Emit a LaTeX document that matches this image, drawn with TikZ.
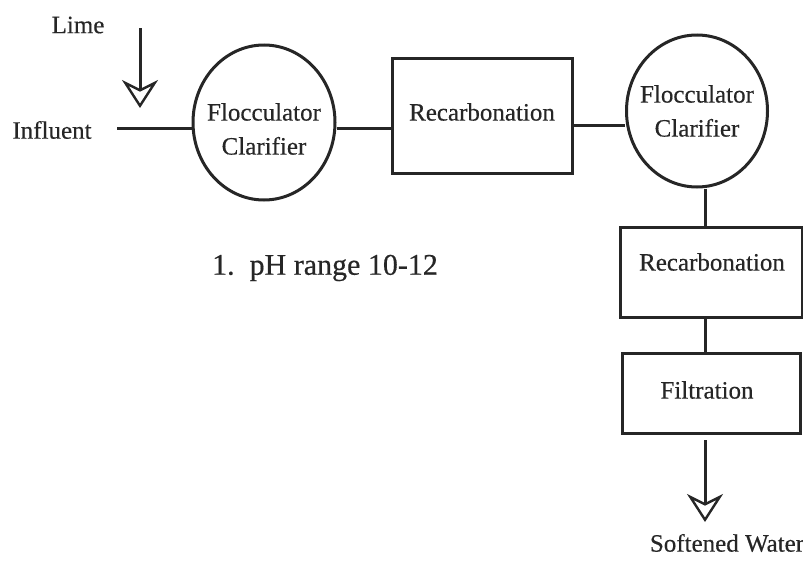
\documentclass[tikz,border=0pt]{standalone}
\usepackage{fontspec}
\setmainfont{Liberation Serif}[FakeBold=0.4]
\usetikzlibrary{shapes.geometric,arrows.meta}
\begin{document}
\begin{tikzpicture}[x=1pt,y=1pt,
  every node/.style={font=\fontsize{25}{34}\selectfont, text=black!85},
  line/.style={draw=black!85, line width=3pt},
  tank/.style={ellipse, draw=black!85, line width=3pt, inner sep=0pt},
  unitbox/.style={rectangle, draw=black!85, line width=3pt, inner sep=0pt},
  lbl/.style={inner sep=0pt, anchor=center, align=center},
  feed/.style={line, -{Stealth[open, length=28pt, width=36pt, inset=9pt, line width=2.4pt]}}
]
\useasboundingbox (0,0) rectangle (803,-562);
% units
\node[tank, minimum width=142pt, minimum height=155pt] (c1) at (264,-122.5) {};
\node[unitbox, minimum width=180pt, minimum height=115pt] (r1) at (482,-115.5) {};
\node[tank, minimum width=141pt, minimum height=152pt] (c2) at (697,-111) {};
\node[unitbox, minimum width=182pt, minimum height=90pt] (r2) at (711,-272) {};
\node[unitbox, minimum width=178pt, minimum height=80pt] (r3) at (711,-393) {};
% texts
\node[lbl] (t1) at (264,-129) {Flocculator\\Clarifier};
\node[lbl] (t2) at (482,-112) {Recarbonation};
\node[lbl] (t3) at (697,-111) {Flocculator\\Clarifier};
\node[lbl] (t4) at (712,-262) {Recarbonation};
\node[lbl] (t5) at (707,-390) {Filtration};
\node[lbl] (lime) at (78,-25) {Lime};
\node[lbl] (infl) at (52,-130) {Influent};
\node[lbl] (soft) at (727,-543) {Softened Water};
\node[lbl, font=\fontsize{30}{36}\selectfont] (ph) at (325,-268) {1.\ \ pH range 10-12};
% helper coordinates
\coordinate (inA) at (117,-128);
\coordinate (yB) at (0,-125);
\coordinate (xv) at (705,0);
\coordinate (limetop) at (140,-28);
\coordinate (limetip) at (140,-108);
\coordinate (outtop) at (705,-440);
\coordinate (outtip) at (705,-522);
% connectors
\draw[line] (inA) -- (c1.west |- inA);
\draw[line] (c1.east |- inA) -- (r1.west |- inA);
\draw[line] (r1.east |- yB) -- (c2.west |- yB);
\draw[line] (xv |- c2.south) -- (xv |- r2.north);
\draw[line] (xv |- r2.south) -- (xv |- r3.north);
\draw[feed] (limetop) -- (limetip);
\draw[feed] (outtop) -- (outtip);
\end{tikzpicture}
\end{document}
